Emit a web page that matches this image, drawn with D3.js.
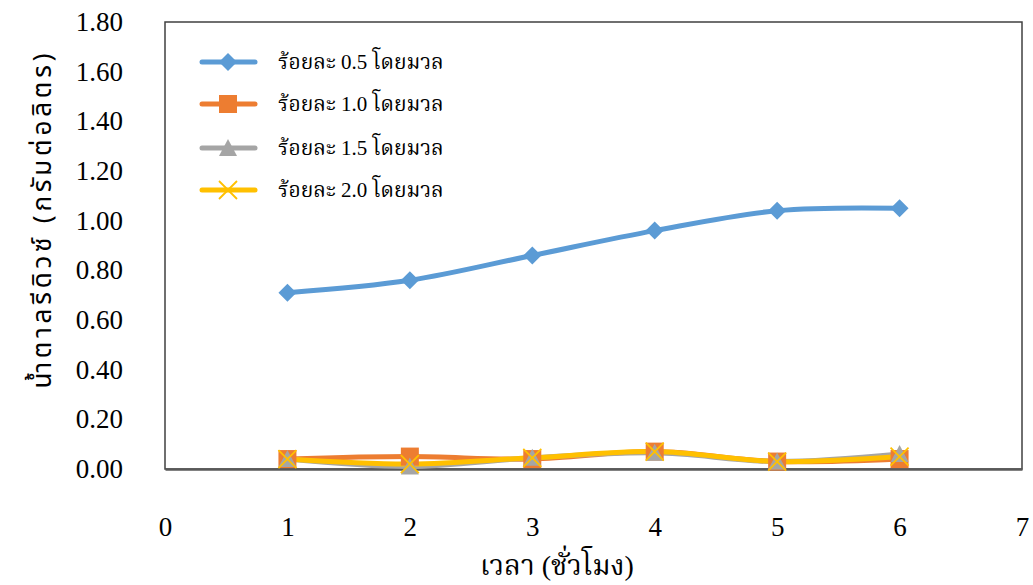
<!DOCTYPE html>
<html><head><meta charset="utf-8">
<script src="https://cdn.jsdelivr.net/npm/d3@7"></script>
<style>
body{margin:0;background:#fff;}
text{font-family:"Liberation Serif","Times New Roman","Noto Serif Thai","Noto Sans Thai",serif;}
</style></head>
<body><svg id="c" width="1033" height="585"></svg>
<script>
const hours = [1,2,3,4,5,6];
const s05 = [0.71,0.76,0.86,0.96,1.04,1.05];
const s10 = [0.04,0.05,0.04,0.07,0.03,0.04];
const s15 = [0.04,0.01,0.045,0.065,0.03,0.06];
const s20 = [0.04,0.02,0.045,0.07,0.03,0.05];
const seriesNames = ["ร้อยละ 0.5 โดยมวล","ร้อยละ 1.0 โดยมวล","ร้อยละ 1.5 โดยมวล","ร้อยละ 2.0 โดยมวล"];
const yTicks = [0,0.2,0.4,0.6,0.8,1.0,1.2,1.4,1.6,1.8];
const xTicks = [0,1,2,3,4,5,6,7];
const xTitle = "เวลา (ชั่วโมง)";
const yTitle = "น้ำตาลรีดิวซ์  (กรัมต่อลิตร)";

const colors = ["#5B9BD5","#ED7D31","#A5A5A5","#FFC000"];
const markers = ["diamond","square","triangle","x"];
const seriesData = [s05,s10,s15,s20];

const svg = d3.select("#c");
const L=165, R=1022, T=22, B=469;
const x = d3.scaleLinear().domain([0,7]).range([L,R]);
const y = d3.scaleLinear().domain([0,1.8]).range([B,T]);

// plot frame
svg.append("rect").attr("x",L).attr("y",T).attr("width",R-L).attr("height",B-T)
  .attr("fill","none").attr("stroke","#404040").attr("stroke-width",1.5);

// axes
const yAxis = d3.axisLeft(y).tickValues(yTicks).tickFormat(d3.format(".2f")).tickSize(0).tickPadding(42);
const ga = svg.append("g").attr("transform",`translate(${L},0)`).call(yAxis);
ga.select(".domain").remove();
ga.selectAll("text").attr("font-size",27).attr("fill","#000").attr("font-family","Liberation Serif");

const xAxis = d3.axisBottom(x).tickValues(xTicks).tickFormat(d3.format("d")).tickSize(0).tickPadding(48);
const gx = svg.append("g").attr("transform",`translate(0,${B})`).call(xAxis);
gx.select(".domain").attr("stroke","#595959").attr("stroke-width",2.5);
gx.selectAll("text").attr("font-size",27).attr("fill","#000").attr("font-family","Liberation Serif");

// titles
svg.append("text").attr("x",557).attr("y",575).attr("text-anchor","middle")
  .attr("font-size",28).attr("fill","#000").text(xTitle);
svg.append("text").attr("transform","translate(51,221) rotate(-90)").attr("text-anchor","middle")
  .attr("font-size",26).attr("fill","#000")
  .attr("textLength",335).attr("lengthAdjust","spacing")
  .style("font-family","'Noto Sans Thai','Noto Sans','DejaVu Sans',sans-serif").text(yTitle);

function drawMarker(g, type, cx, cy, color){
  if(type==="diamond"){
    g.append("path").attr("d",`M${cx},${cy-9}L${cx+9},${cy}L${cx},${cy+9}L${cx-9},${cy}Z`).attr("fill",color);
  } else if(type==="square"){
    g.append("rect").attr("x",cx-9).attr("y",cy-9).attr("width",18).attr("height",18).attr("fill",color);
  } else if(type==="triangle"){
    g.append("path").attr("d",`M${cx},${cy-9}L${cx+9},${cy+8}L${cx-9},${cy+8}Z`).attr("fill",color);
  } else {
    g.append("path").attr("d",`M${cx-9},${cy-9}L${cx+9},${cy+9}M${cx+9},${cy-9}L${cx-9},${cy+9}`)
      .attr("stroke",color).attr("stroke-width",1.8).attr("fill","none");
  }
}

const line = d3.line().x((d,i)=>x(hours[i])).y(d=>y(d)).curve(d3.curveCatmullRom.alpha(0.5));
seriesData.forEach((data,k)=>{
  const g = svg.append("g");
  g.append("path").datum(data).attr("d",line).attr("fill","none")
    .attr("stroke",colors[k]).attr("stroke-width",5).attr("stroke-linecap","round");
});
seriesData.forEach((data,k)=>{
  const g = svg.append("g");
  data.forEach((d,i)=>drawMarker(g, markers[k], x(hours[i]), y(d), colors[k]));
});

// legend
const legY = [62,104,148,190];
seriesNames.forEach((name,k)=>{
  const g = svg.append("g");
  g.append("line").attr("x1",202).attr("x2",255).attr("y1",legY[k]).attr("y2",legY[k])
    .attr("stroke",colors[k]).attr("stroke-width",5).attr("stroke-linecap","round");
  drawMarker(g, markers[k], 228, legY[k], colors[k]);
  g.append("text").attr("x",278).attr("y",legY[k]+7).attr("font-size",21).attr("fill","#000").text(name);
});
</script></body></html>
